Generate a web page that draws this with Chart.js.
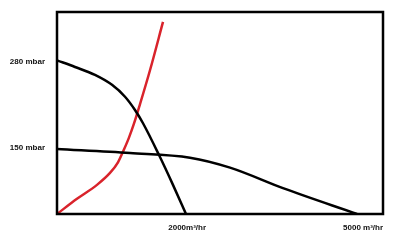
<!DOCTYPE html>
<html>
<head>
<meta charset="utf-8">
<script src="https://cdn.jsdelivr.net/npm/chart.js@4"></script>
<style>
html,body{margin:0;padding:0;background:#fff;}
#wrap{width:400px;height:246px;}
</style>
</head>
<body>
<div id="wrap"><canvas id="c" width="400" height="246"></canvas></div>
<script>
// Flow (m³/hr) and pressure (mbar) values
const fan1Flow = [-220, 87, 428, 718, 940, 1110, 1247, 1520, 1758, 1980];
const fan1Pressure = [282, 272, 260, 245, 227, 207, 187, 139, 94, 50];
const fan2Flow = [-220, 1025, 2048, 2731, 3634, 4897];
const fan2Pressure = [148, 142, 135, 120, 89, 50];
const systemFlow = [-220, 121, 462, 684, 820, 920, 1006, 1091, 1196, 1366, 1588];
const systemPressure = [50, 73, 94, 112, 128, 147, 165, 186, 216, 267, 340];
const xTickValues = [2000, 5000];
const xTickLabels = ['2000m³/hr', '5000 m³/hr'];
const yTickValues = [150, 280];
const yTickLabels = ['150 mbar', '280 mbar'];

const pts = (xs, ys) => xs.map((x, i) => ({x: x, y: ys[i]}));

const frame = {
  id: 'frame',
  afterDatasetsDraw(chart) {
    const a = chart.chartArea, ctx = chart.ctx;
    ctx.save();
    ctx.strokeStyle = '#000';
    ctx.lineWidth = 2.5;
    ctx.strokeRect(a.left, a.top, a.right - a.left, a.bottom - a.top);
    ctx.restore();
  }
};

const lineStyle = {borderWidth: 2.5, pointRadius: 0, cubicInterpolationMode: 'monotone', fill: false};

new Chart(document.getElementById('c'), {
  type: 'line',
  data: {
    datasets: [
      Object.assign({data: pts(fan1Flow, fan1Pressure), borderColor: '#000'}, lineStyle),
      Object.assign({data: pts(fan2Flow, fan2Pressure), borderColor: '#000'}, lineStyle),
      Object.assign({data: pts(systemFlow, systemPressure), borderColor: '#d9232b'}, lineStyle)
    ]
  },
  options: {
    responsive: false,
    animation: false,
    layout: {padding: {left: 0, top: 12, right: 17, bottom: 0}},
    plugins: {legend: {display: false}, tooltip: {enabled: false}},
    scales: {
      x: {
        type: 'linear', min: -220, max: 5340,
        grid: {display: false, tickLength: 0}, border: {display: false},
        afterBuildTicks: s => { s.ticks = xTickValues.map(v => ({value: v})); },
        afterFit: s => { s.height = 32; s.paddingLeft = 0; s.paddingRight = 0; },
        ticks: {
          padding: 9, maxRotation: 0, autoSkip: false, color: '#111',
          font: {family: 'Liberation Sans', size: 8, weight: 'bold'},
          callback: (v) => xTickLabels[xTickValues.indexOf(v)]
        }
      },
      y: {
        type: 'linear', min: 50, max: 355,
        grid: {display: false, tickLength: 0}, border: {display: false},
        afterBuildTicks: s => { s.ticks = yTickValues.map(v => ({value: v})); },
        afterFit: s => { s.width = 57; s.paddingTop = 0; s.paddingBottom = 0; },
        ticks: {
          padding: 12, autoSkip: false, color: '#111',
          font: {family: 'Liberation Sans', size: 8, weight: 'bold'},
          callback: (v) => yTickLabels[yTickValues.indexOf(v)]
        }
      }
    }
  },
  plugins: [frame]
});
</script>
</body>
</html>
